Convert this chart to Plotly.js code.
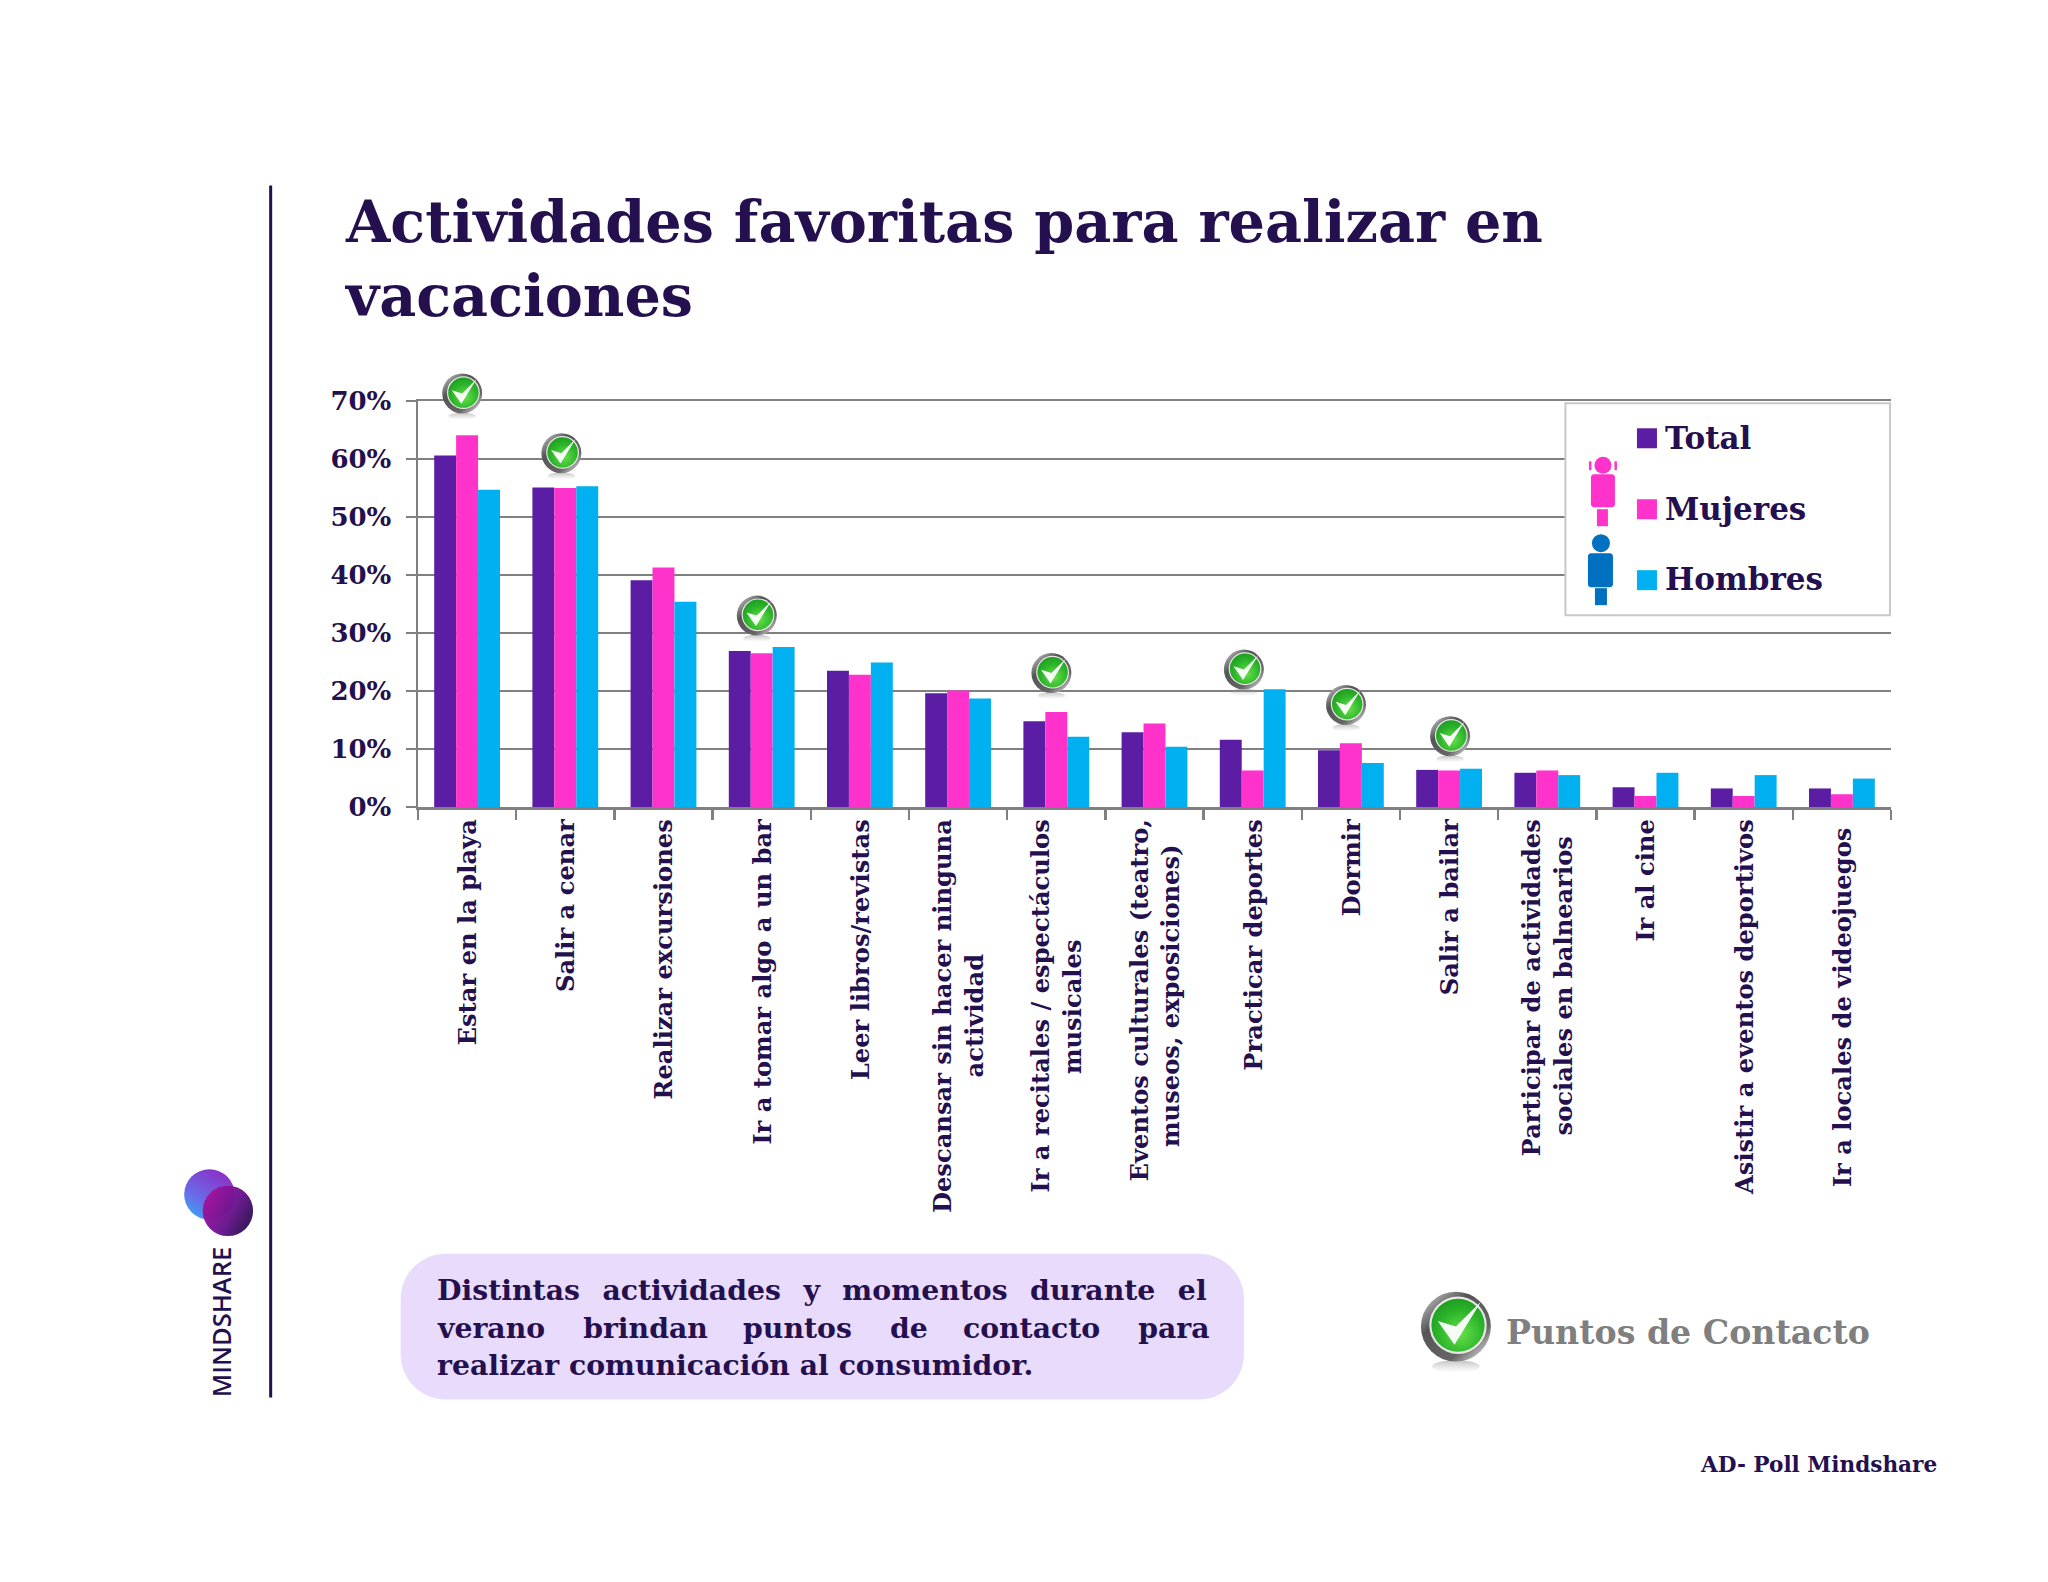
<!DOCTYPE html>
<html><head><meta charset="utf-8">
<script src="https://cdn.plot.ly/plotly-3.0.1.min.js"></script>
<style>html,body{margin:0;padding:0;background:#fff}</style></head>
<body><div id="chart" style="width:2048px;height:1582px"></div>
<script>
const categories = ["Estar en la playa","Salir a cenar","Realizar excursiones","Ir a tomar algo a un bar","Leer libros/revistas","Descansar sin hacer ninguna actividad","Ir a recitales / espectáculos musicales","Eventos culturales (teatro, museos, exposiciones)","Practicar deportes","Dormir","Salir a bailar","Participar de actividades sociales en balnearios","Ir al cine","Asistir a eventos deportivos","Ir a locales de videojuegos"];
const N = "\u00a0", TH = "\u2009", HR = "\u200a";
const tickLabels = ["Estar en la playa","Salir a cenar","Realizar excursiones","Ir a tomar algo a un bar","Leer libros/revistas","Descansar sin hacer ninguna<br>actividad"+N.repeat(16),"Ir a recitales / espectáculos<br>musicales"+N.repeat(14)+HR,"Eventos culturales (teatro,<br>museos, exposiciones)"+N.repeat(3),"Practicar deportes","Dormir","Salir a bailar","Participar de actividades<br>sociales en balnearios"+N.repeat(2),"Ir al cine","Asistir a eventos deportivos","Ir a locales de videojuegos"+N];
const total   = [60.6,55.1,39.1,26.9,23.5,19.6,14.8,12.9,11.6,9.8,6.4,5.9,3.4,3.2,3.2];
const mujeres = [64.1,55.0,41.3,26.5,22.8,20.1,16.4,14.4,6.3,11.0,6.3,6.3,1.9,1.9,2.2];
const hombres = [54.7,55.3,35.4,27.6,24.9,18.7,12.1,10.4,20.3,7.6,6.6,5.5,5.9,5.5,4.9];
const seriesNames = ["Total","Mujeres","Hombres"];
const seriesColors = ["#5b1da3","#ff33cc","#00b0f0"];
const checkX = [-0.05,0.96,2.95,5.95,7.91,8.95,10.01];
const checkY = [71.3,61,33,23.1,23.7,17.6,12.2];
const titleText = "Actividades favoritas para realizar en<br>vacaciones";
const ink = "#25104f";

const W=2048,H=1582,L=418.3,R=1891,T=400.7,B=807;
const X=p=>(p-L)/(R-L), Y=p=>(B-p)/(B-T);
const serif="'DejaVu Serif',serif";
const ICON = 'data:image/svg+xml;utf8,'+encodeURIComponent(`<svg xmlns="http://www.w3.org/2000/svg" width="240" height="320" viewBox="-10 -30 120 160"><defs><linearGradient id="r" x1="0" y1="0" x2="0.9" y2="1"><stop offset="0" stop-color="#d8d8d8"/><stop offset="0.35" stop-color="#555"/><stop offset="0.75" stop-color="#666"/><stop offset="1" stop-color="#e4e4e4"/></linearGradient><radialGradient id="g" cx="0.55" cy="0.65" r="0.7"><stop offset="0" stop-color="#66e04a"/><stop offset="0.6" stop-color="#2cb52a"/><stop offset="1" stop-color="#1a9a1f"/></radialGradient><linearGradient id="f" x1="0" y1="0" x2="0" y2="1"><stop offset="0" stop-color="#888" stop-opacity="0.5"/><stop offset="1" stop-color="#aaa" stop-opacity="0"/></linearGradient></defs><ellipse cx="50" cy="107" rx="34" ry="9" fill="url(#f)"/><circle cx="50" cy="50" r="50" fill="url(#r)"/><circle cx="53" cy="48" r="41" fill="#fff" fill-opacity="0.85"/><circle cx="53" cy="48" r="38" fill="url(#g)"/><path d="M24 42 L48 76 L86 14 L50 50 Z" fill="#fff" fill-opacity="0.95"/></svg>`);
const LOGO = 'data:image/svg+xml;utf8,'+encodeURIComponent(`<svg xmlns="http://www.w3.org/2000/svg" width="280" height="280" viewBox="0 0 70 70"><defs><linearGradient id="a" x1="0" y1="1" x2="0.6" y2="0"><stop offset="0" stop-color="#2fb4f7"/><stop offset="0.45" stop-color="#6a6ae8"/><stop offset="1" stop-color="#8a33c8"/></linearGradient><linearGradient id="b" x1="0.1" y1="0.2" x2="1" y2="0.7"><stop offset="0" stop-color="#a3139b"/><stop offset="0.55" stop-color="#6a1590"/><stop offset="1" stop-color="#2c1150"/></linearGradient></defs><circle cx="25" cy="25" r="24.5" fill="url(#a)"/><circle cx="43" cy="41" r="24.5" fill="url(#b)" fill-opacity="0.97"/></svg>`);
function rr(x0,y0,x1,y1,r){
 const k=r*0.45;
 return `M${X(x0+r)},${Y(y0)} L${X(x1-r)},${Y(y0)} C${X(x1-k)},${Y(y0)} ${X(x1)},${Y(y0+k)} ${X(x1)},${Y(y0+r)} L${X(x1)},${Y(y1-r)} C${X(x1)},${Y(y1-k)} ${X(x1-k)},${Y(y1)} ${X(x1-r)},${Y(y1)} L${X(x0+r)},${Y(y1)} C${X(x0+k)},${Y(y1)} ${X(x0)},${Y(y1-k)} ${X(x0)},${Y(y1-r)} L${X(x0)},${Y(y0+r)} C${X(x0)},${Y(y0+k)} ${X(x0+k)},${Y(y0)} ${X(x0+r)},${Y(y0)} Z`;
}
const rect=(x0,y0,x1,y1,fill,line)=>({type:'rect',xref:'paper',yref:'paper',x0:X(x0),x1:X(x1),y0:Y(y1),y1:Y(y0),fillcolor:fill,line:line||{width:0},layer:'above'});
const circ=(cx,cy,r,fill)=>({type:'circle',xref:'paper',yref:'paper',x0:X(cx-r),x1:X(cx+r),y0:Y(cy+r),y1:Y(cy-r),fillcolor:fill,line:{width:0},layer:'above'});
const rpath=(x0,y0,x1,y1,r,fill)=>({type:'path',xref:'paper',yref:'paper',path:rr(x0,y0,x1,y1,r),fillcolor:fill,line:{width:0},layer:'above'});
const txt=(s,x,base,size,color,anchor)=>({xref:'paper',yref:'paper',x:X(x),y:Y(base),xanchor:anchor||'left',yanchor:'bottom',yshift:-size*0.31,text:s,showarrow:false,borderpad:0,font:{family:serif,size:size,color:color||ink,weight:700}});

const traces=[total,mujeres,hombres].map((v,i)=>({type:'bar',name:seriesNames[i],x:categories,y:v,marker:{color:seriesColors[i],line:{width:0}}}));

const shapes=[
 {type:'line',xref:'paper',yref:'paper',x0:X(271),x1:X(271),y0:Y(185),y1:Y(1398),line:{color:ink,width:3},layer:'above'},
 rpath(401,1254,1244,1400,45,'#e9dbfb'),
 rect(1565.5,403,1890,615,'#ffffff',{color:'#c8c8c8',width:2}),
 rect(1637,428,1657,448,seriesColors[0]),
 rect(1637,499,1657,519,seriesColors[1]),
 rect(1637,570,1657,590,seriesColors[2]),
 rpath(1589,461,1591.5,470,1,'#ff33cc'),
 rpath(1614.5,461,1617,470,1,'#ff33cc'),
 circ(1603,465,8.5,'#ff33cc'),
 rpath(1591,474,1615,507,3,'#ff33cc'),
 rect(1597,509,1608,526,'#ff33cc'),
 circ(1601,543,9,'#0070c0'),
 rpath(1588,553,1613,587,3,'#0070c0'),
 rect(1595,588,1607,605,'#0070c0'),
];
const g1=N+N+HR, g2=N+N+N+TH, g2b=g2+HR;
const annotations=[
 txt("Total",1664,446.7,31),
 txt("Mujeres",1664,517.7,31),
 txt("Hombres",1664,588,31),
 txt(["Distintas","actividades","y","momentos","durante","el"].join(g1),436.5,1300,28.3),
 txt("verano"+g2b+"brindan"+g2+"puntos"+g2b+"de"+g2+"contacto"+g2b+"para",436.5,1338,28.3),
 txt("realizar comunicación al consumidor.",436.5,1375,28.3),
 txt("Puntos de Contacto",1505,1343.5,33.2,"#7f7f7f"),
 txt("AD- Poll Mindshare",1699,1472,21.6),
 {xref:'paper',yref:'paper',x:X(221),y:Y(1322),text:"MINDSHARE",textangle:-90,showarrow:false,xanchor:'center',yanchor:'middle',font:{family:"'Open Sans',sans-serif",size:25.5,color:ink,weight:600}},
];
const images=checkX.map((c,i)=>({source:ICON,xref:'paper',yref:'paper',x:(c+0.5)/categories.length,y:checkY[i]/70,sizex:48/(R-L),sizey:64/(B-T),sizing:'stretch',xanchor:'center',yanchor:'middle',layer:'above'}));
images.push({source:ICON,xref:'paper',yref:'paper',x:X(1456),y:Y(1327),sizex:84/(R-L),sizey:112/(B-T),sizing:'stretch',xanchor:'center',yanchor:'middle',layer:'above'});
images.push({source:LOGO,xref:'paper',yref:'paper',x:X(220),y:Y(1205),sizex:72/(R-L),sizey:72/(B-T),sizing:'stretch',xanchor:'center',yanchor:'middle',layer:'above'});

const layout={
 width:W,height:H,autosize:false,paper_bgcolor:'#ffffff',plot_bgcolor:'rgba(0,0,0,0)',showlegend:false,
 margin:{l:L,r:W-R,t:T,b:H-B,pad:0},
 barmode:'group',bargap:0.33,bargroupgap:0,
 title:{text:titleText,xref:'container',yref:'container',x:346/W,xanchor:'left',y:1-242/H,yanchor:'top',font:{family:serif,size:57.2,color:ink,weight:700}},
 xaxis:{type:'category',tickmode:'array',tickvals:categories,ticktext:tickLabels,tickangle:-90,tickson:'boundaries',ticks:'outside',ticklen:10,tickwidth:2.5,tickcolor:'#808080',showline:true,mirror:true,linecolor:'#808080',linewidth:2.5,showgrid:false,automargin:false,tickfont:{family:serif,size:24.2,color:ink,weight:700},ticklabelstandoff:10.5,ticklabelshift:1},
 yaxis:{range:[0,70],dtick:10,ticksuffix:'%',ticks:'outside',ticklen:10,tickwidth:2.5,tickcolor:'#808080',showline:true,linecolor:'#808080',linewidth:2.5,showgrid:true,gridcolor:'#808080',gridwidth:2.5,zeroline:false,automargin:false,tickfont:{family:serif,size:26,color:ink,weight:700},ticklabelstandoff:9},
 shapes,annotations,images
};
Plotly.newPlot('chart',traces,layout,{displayModeBar:false,staticPlot:true});
</script></body></html>
